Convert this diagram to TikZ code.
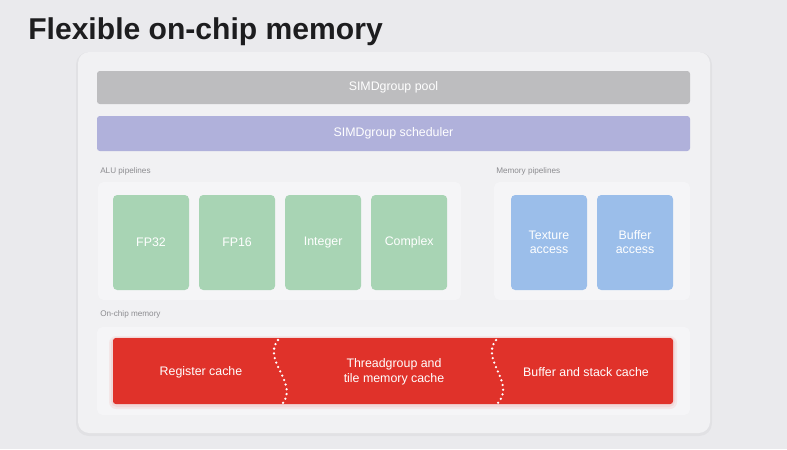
\documentclass[tikz,border=0pt]{standalone}
\usepackage{fontspec}
\setmainfont{Liberation Sans}
\usetikzlibrary{positioning}

\definecolor{pagebg}{HTML}{EAEAED}
\definecolor{panelbg}{HTML}{F1F1F3}
\definecolor{innerbg}{HTML}{F5F5F7}
\definecolor{poolgray}{HTML}{BDBDBF}
\definecolor{schedblue}{HTML}{B0B1DB}
\definecolor{alugreen}{HTML}{A8D4B4}
\definecolor{memblue}{HTML}{9BBEEA}
\definecolor{cachered}{HTML}{E0322A}
\definecolor{labelgray}{HTML}{8C8C90}
\definecolor{titleblack}{HTML}{1D1D1F}

\newcommand{\px}{0.025cm}
\newcommand{\PipeWidth}{76*\px}
\newcommand{\PipeHeight}{95*\px}
\newcommand{\BarWidth}{593*\px}
\newcommand{\PipeGap}{9.5*\px}

\begin{document}
\begin{tikzpicture}[x=0.025cm, y=-0.025cm,
    bar/.style={rectangle, rounded corners=2pt, inner sep=0pt, minimum width=\BarWidth,
      text=white, font=\fontsize{8.8}{10}\selectfont},
    pipe/.style={rectangle, rounded corners=3pt, inner sep=0pt, minimum width=\PipeWidth,
      minimum height=\PipeHeight, text=white, align=center, font=\fontsize{8.8}{10}\selectfont},
    caption/.style={anchor=base west, inner sep=0pt, text=labelgray, font=\fontsize{5.8}{7}\selectfont},
    cachetext/.style={text=white, align=center, inner sep=0pt, font=\fontsize{8.8}{10.5}\selectfont},
    cut/.style={white, line width=1.8pt, line cap=round, dash pattern=on 0pt off 3.4pt}]

  \useasboundingbox[fill=pagebg] (0,0) rectangle (787,449);

  \node[anchor=base west, inner sep=0pt, text=titleblack, font=\fontsize{21.4}{24}\bfseries] (title) at (28,39) {Flexible on-chip memory};

  % panels
  \fill[black, opacity=0.035, rounded corners=9pt] (76,52) rectangle (712,436);
  \fill[panelbg, rounded corners=8pt] (78,52) rectangle (710,433);
  \fill[innerbg, rounded corners=4pt] (98,182) rectangle (461,300);
  \fill[innerbg, rounded corners=4pt] (494,182) rectangle (690,300);
  \fill[innerbg, rounded corners=4pt] (97,327) rectangle (690,415);

  \node[bar, fill=poolgray, minimum height=33*\px] (pool) at (393.5,87.5) {\raisebox{-1.5pt}{SIMDgroup pool}};
  \node[bar, fill=schedblue, minimum height=35*\px] (sched) at (393.5,133.5) {\raisebox{-1.5pt}{SIMDgroup scheduler}};

  \node[caption] (alulabel) at (100,173) {ALU pipelines};
  \node[caption] (memlabel) at (496,173) {Memory pipelines};
  \node[caption] (onchiplabel) at (100,316) {On-chip memory};

  \node[pipe, fill=alugreen] (fp32) at (151,242.5) {\raisebox{-1.5pt}{FP32}};
  \node[pipe, fill=alugreen, right=\PipeGap of fp32] (fp16) {\raisebox{-1.5pt}{FP16}};
  \node[pipe, fill=alugreen, right=\PipeGap of fp16] (int) {\raisebox{-1.5pt}{Integer}};
  \node[pipe, fill=alugreen, right=\PipeGap of int] (complex) {\raisebox{-1.5pt}{Complex}};

  \node[pipe, fill=memblue] (texture) at (549,242.5) {Texture\\access};
  \node[pipe, fill=memblue, right=\PipeGap of texture] (buffer) {Buffer\\access};

  % red glow
  \fill[cachered, opacity=0.07, rounded corners=5pt] (109,336) rectangle (677,409);
  \fill[cachered, opacity=0.08, rounded corners=4pt] (111,337) rectangle (675,407);
  \node[rectangle, rounded corners=2pt, inner sep=0pt, fill=cachered,
    minimum width=560*\px, minimum height=66*\px] (cache) at (393,371) {};

  \node[cachetext] (regcache) at (201,372) {Register cache};
  \node[cachetext] (tgcache) at (394,372) {Threadgroup and\\tile memory cache};
  \node[cachetext] (bufcache) at (586,372) {Buffer and stack cache};

  \coordinate (cutAtop) at (278,340);
  \coordinate (cutAbot) at (283,403);
  \coordinate (cutBtop) at (496,340);
  \coordinate (cutBbot) at (498,403);
  \draw[cut] (cutAtop) .. controls (262,360) and (298,382) .. (cutAbot);
  \draw[cut] (cutBtop) .. controls (480,360) and (516,382) .. (cutBbot);

\end{tikzpicture}
\end{document}
